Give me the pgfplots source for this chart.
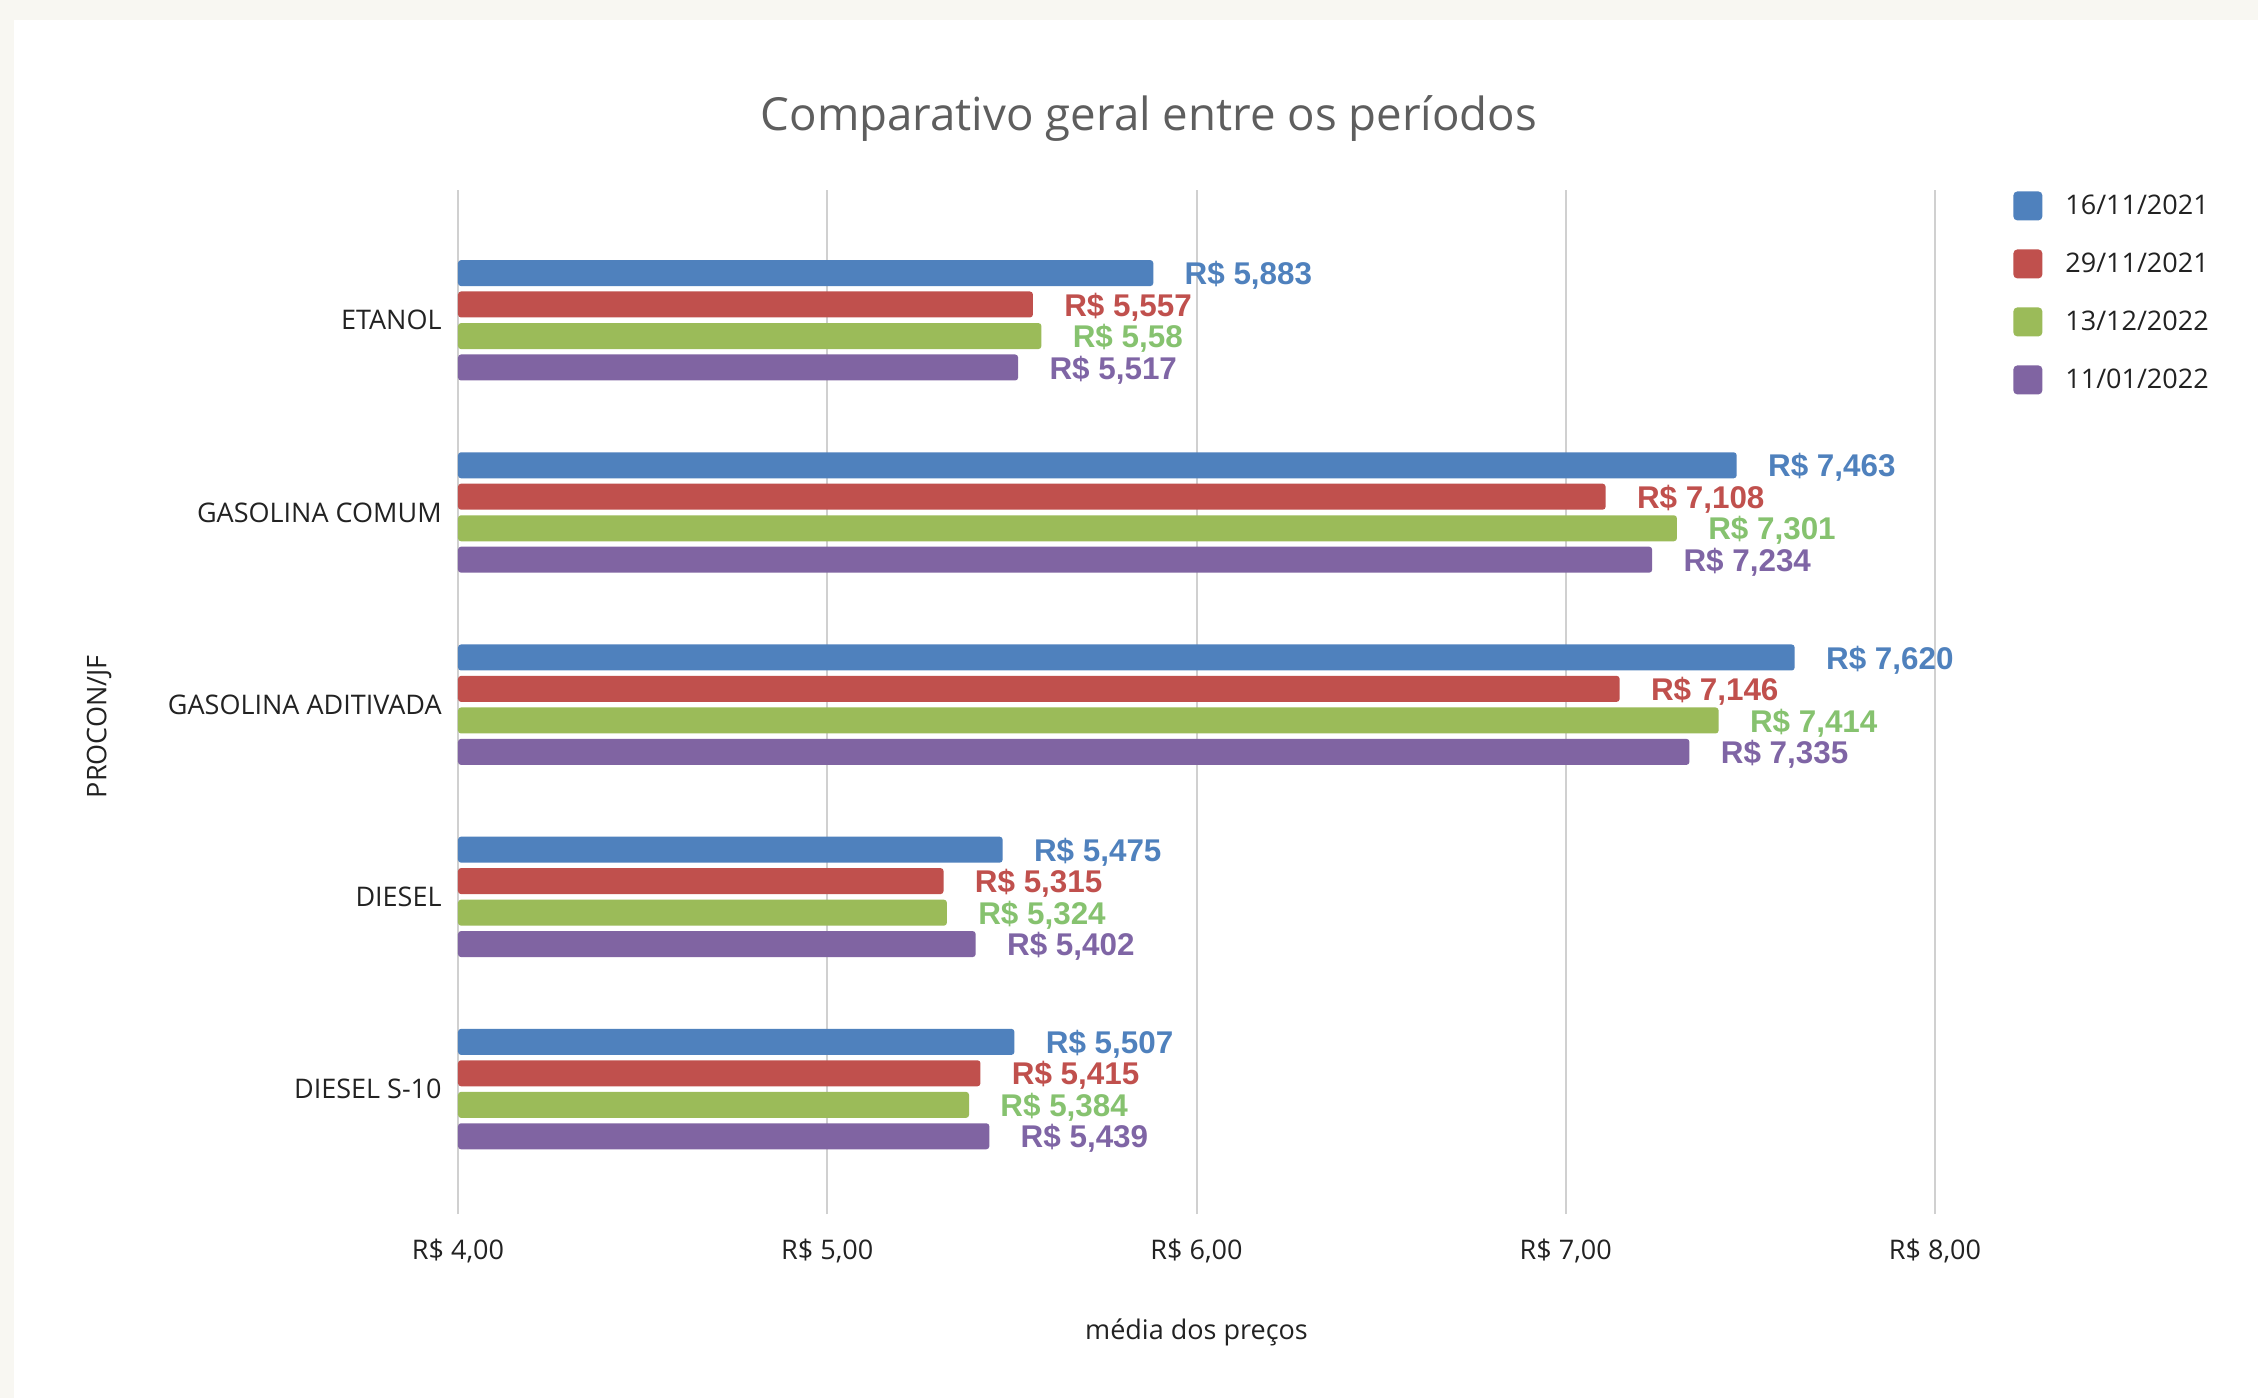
\documentclass[border=0pt]{standalone}
\usepackage{pgfplots}
\pgfplotsset{compat=1.18}
\usepackage{pgfplotstable}
\usepackage{fontspec}
\setmainfont{Open Sans}
\newfontfamily\lblfont{Liberation Sans}
\definecolor{bgout}{HTML}{F8F7F2}
\definecolor{gridgray}{HTML}{D0D0D0}
\definecolor{cblue}{HTML}{4F81BD}
\definecolor{cred}{HTML}{C0504D}
\definecolor{cgreen}{HTML}{9BBB59}
\definecolor{cpurple}{HTML}{8064A2}
\definecolor{lblue}{HTML}{4F81BD}
\definecolor{lred}{HTML}{C0504D}
\definecolor{lgreen}{HTML}{86C26F}
\definecolor{lpurple}{HTML}{7F65A5}
\definecolor{txt}{HTML}{222222}
\definecolor{ttl}{HTML}{5E5E5E}

\pgfplotstableread{
y v lab
4 5.883 5,883
3 7.463 7,463
2 7.620 7,620
1 5.475 5,475
0 5.507 5,507
}\dataA
\pgfplotstableread{
y v lab
4 5.557 5,557
3 7.108 7,108
2 7.146 7,146
1 5.315 5,315
0 5.415 5,415
}\dataB
\pgfplotstableread{
y v lab
4 5.58 5,58
3 7.301 7,301
2 7.414 7,414
1 5.324 5,324
0 5.384 5,384
}\dataC
\pgfplotstableread{
y v lab
4 5.517 5,517
3 7.234 7,234
2 7.335 7,335
1 5.402 5,402
0 5.439 5,439
}\dataD

\begin{document}
\begin{tikzpicture}
\fill[bgout] (-229bp,-92bp) rectangle (900bp,607bp);
\fill[white] (-222bp,-92bp) rectangle (900bp,597bp);
\begin{axis}[
  at={(0,0)}, anchor=south west,
  scale only axis, width=738.5bp, height=512bp,
  clip=false,
  xbar, bar width=13bp,
  xmin=0, xmax=4, ymin=-0.65, ymax=4.678,
  enlargelimits=false,
  axis line style={draw=none},
  major tick length=0pt,
  xmajorgrids, grid style={gridgray, line width=1bp},
  xtick={0,1,2,3,4},
  xticklabels={{R\$ 4,00},{R\$ 5,00},{R\$ 6,00},{R\$ 7,00},{R\$ 8,00}},
  ytick={0,1,2,3,4},
  yticklabels={DIESEL S-10,DIESEL,GASOLINA ADITIVADA,GASOLINA COMUM,ETANOL},
  tick label style={font=\fontsize{13.5bp}{16bp}\selectfont, text=txt},
  xticklabel style={anchor=center, yshift=-18.5bp},
  yticklabel style={anchor=east, inner sep=0pt, xshift=-8bp},
  xlabel={média dos preços},
  ylabel={PROCON/JF},
  label style={font=\fontsize{13.5bp}{16bp}\selectfont, text=txt},
  xlabel style={at={(axis description cs:0.5,-0.116)}, anchor=center},
  ylabel style={at={(axis description cs:-0.243,0.476)}, anchor=center},
  point meta=explicit symbolic,
  nodes near coords={R\$ \pgfplotspointmeta},
  nodes near coords style={anchor=base west, inner sep=0pt, xshift=15.5bp, yshift=-5.8bp,
    font=\lblfont\bfseries\fontsize{15.7bp}{18bp}\selectfont},
  legend cell align=left,
  legend image code/.code={\fill[#1, rounded corners=2bp] (0bp,-7.25bp) rectangle (14.5bp,7.25bp);},
  legend style={draw=none, fill=none, inner sep=0pt, row sep=14.5bp,
    at={(axis description cs:1.0528,0.999)}, anchor=north west,
    font=\fontsize{13.5bp}{16bp}\selectfont, text=txt,
    nodes={inner sep=0pt},
    /tikz/every odd column/.append style={column sep=11.5bp}},
]
\addplot[fill=cblue, draw=none, rounded corners=1.5bp, bar shift=23.6bp,
  nodes near coords style={text=lblue}]
  table[x expr=\thisrow{v}-4, y=y, meta=lab]{\dataA};
\addlegendentry{16/11/2021}
\addplot[fill=cred, draw=none, rounded corners=1.5bp, bar shift=7.9bp,
  nodes near coords style={text=lred}]
  table[x expr=\thisrow{v}-4, y=y, meta=lab]{\dataB};
\addlegendentry{29/11/2021}
\addplot[fill=cgreen, draw=none, rounded corners=1.5bp, bar shift=-7.9bp,
  nodes near coords style={text=lgreen}]
  table[x expr=\thisrow{v}-4, y=y, meta=lab]{\dataC};
\addlegendentry{13/12/2022}
\addplot[fill=cpurple, draw=none, rounded corners=1.5bp, bar shift=-23.6bp,
  nodes near coords style={text=lpurple}]
  table[x expr=\thisrow{v}-4, y=y, meta=lab]{\dataD};
\addlegendentry{11/01/2022}
\end{axis}
\node[font=\fontsize{22.8bp}{27bp}\selectfont, text=ttl, anchor=center] at (345.5bp,547.5bp) {Comparativo geral entre os períodos};
\end{tikzpicture}
\end{document}
